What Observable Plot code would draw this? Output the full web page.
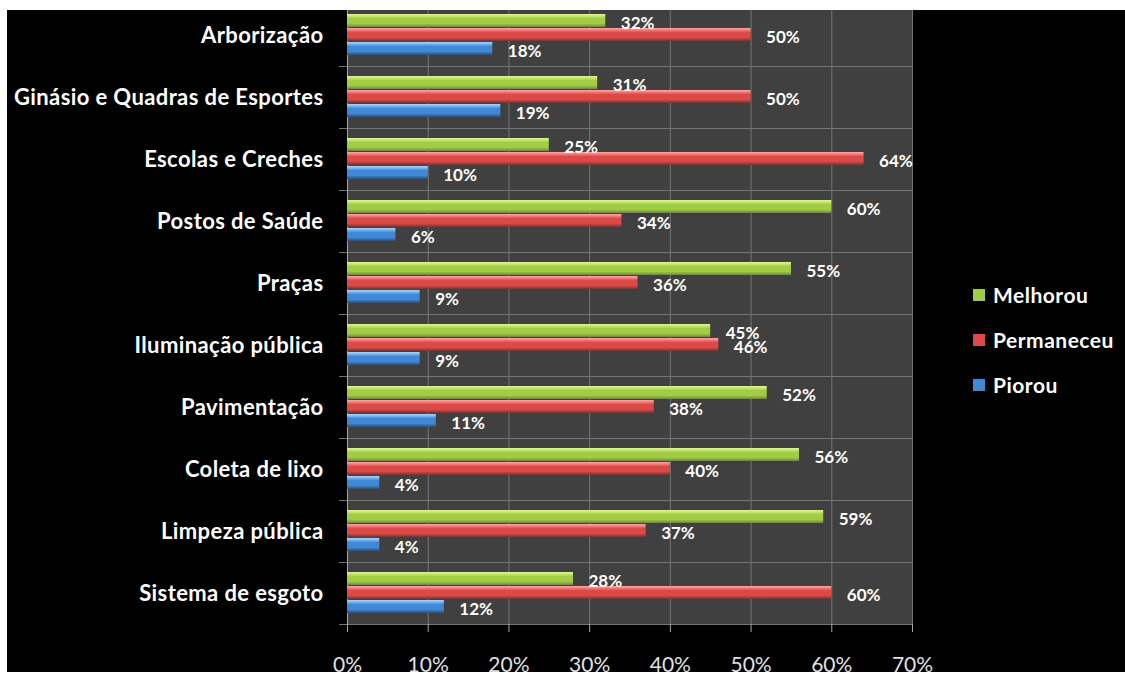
<!DOCTYPE html>
<html>
<head>
<meta charset="utf-8">
<script src="https://cdn.jsdelivr.net/npm/d3@7"></script>
<script src="https://cdn.jsdelivr.net/npm/@observablehq/plot@0.6"></script>
<style>
  html, body { margin: 0; padding: 0; background: #fff; }
  #frame { position: absolute; left: 7px; top: 10px; width: 1118px; height: 662px; background: #000; overflow: hidden; }
  #chart { position: absolute; left: -7px; top: -10px; }
  #legend { position: absolute; left: 973px; top: 272px; font-family: Lato, sans-serif; font-weight: bold; font-size: 21px; color: #fff; letter-spacing: 0.5px; }
  #legend .item { display: flex; align-items: center; height: 45px; }
  #legend .sw { width: 12px; height: 12px; margin-right: 8px; }
</style>
</head>
<body>
<div id="frame"><div id="chart"></div></div>
<div id="legend"></div>
<script>
const categories = [
  "Arborização",
  "Ginásio e Quadras de Esportes",
  "Escolas e Creches",
  "Postos de Saúde",
  "Praças",
  "Iluminação pública",
  "Pavimentação",
  "Coleta de lixo",
  "Limpeza pública",
  "Sistema de esgoto"
];
const series = ["Melhorou", "Permaneceu", "Piorou"];
const melhorou   = [32, 31, 25, 60, 55, 45, 52, 56, 59, 28];
const permaneceu = [50, 50, 64, 34, 36, 46, 38, 40, 37, 60];
const piorou     = [18, 19, 10,  6,  9,  9, 11,  4,  4, 12];
const xTicks = [0, 10, 20, 30, 40, 50, 60, 70];
const colors = ["#a3cc45", "#dc4a48", "#4089d6"];
const gradStops = [
  ["#e2f59c", "#a3cc45", "#6a9020"],
  ["#f8aca8", "#dc4a48", "#962624"],
  ["#b0d6f8", "#4089d6", "#1c5293"]
];

const valuesBySeries = [melhorou, permaneceu, piorou];
const data = categories.flatMap((c, i) =>
  series.map((s, j) => ({category: c, series: s, value: valuesBySeries[j][i]}))
);

const grid = "#747474";
const chart = Plot.plot({
  width: 1125,
  height: 673,
  marginLeft: 347,
  marginRight: 213,
  marginTop: 3,
  marginBottom: 48,
  style: {background: "transparent", color: "#fff", fontFamily: "Lato, sans-serif"},
  x: {domain: [0, 70]},
  y: {domain: series, paddingInner: 0.04, paddingOuter: 0.65, axis: null},
  fy: {domain: categories, padding: 0},
  color: {type: "ordinal", domain: series, range: series.map((s, i) => `url(#grad${i})`)},
  marks: [
    Plot.frame({fill: "#404040"}),
    Plot.gridX({ticks: xTicks, stroke: grid, strokeOpacity: 1}),
    Plot.frame({anchor: "top", stroke: grid, insetLeft: -8}),
    Plot.frame({anchor: "bottom", stroke: grid, insetLeft: -8}),
    Plot.frame({anchor: "left", stroke: "#a8a8a8"}),
    Plot.barX(data, {x: "value", y: "series", fy: "category", fill: "series"}),
    Plot.text(data, {
      x: "value", y: "series", fy: "category",
      text: d => d.value + "%",
      dx: 15, dy: 3, textAnchor: "start",
      fill: "#fff", fontWeight: "bold", fontSize: 17
    }),
    Plot.axisX({
      ticks: xTicks, tickFormat: d => d + "%", tickSize: 8, tickPadding: 25,
      fontSize: 21, stroke: "#a8a8a8", fill: "#e0e0e0", label: null
    }),
    Plot.axisFy({
      anchor: "left", tickSize: 0, tickPadding: 24,
      fontSize: 22, fontWeight: "bold", fill: "#fff", label: null
    })
  ]
});

const svg = d3.select(chart);
svg.selectAll("[aria-label='fy-axis tick label'] text").style("letter-spacing", "0.4px");
const defs = svg.insert("defs", ":first-child");
gradStops.forEach((st, i) => {
  const g = defs.append("linearGradient").attr("id", `grad${i}`)
    .attr("x1", 0).attr("y1", 0).attr("x2", 0).attr("y2", 1);
  g.append("stop").attr("offset", "0%").attr("stop-color", st[0]);
  g.append("stop").attr("offset", "35%").attr("stop-color", st[1]);
  g.append("stop").attr("offset", "72%").attr("stop-color", st[1]);
  g.append("stop").attr("offset", "100%").attr("stop-color", st[2]);
});
document.getElementById("chart").appendChild(chart);

const legend = document.getElementById("legend");
series.forEach((s, i) => {
  const item = document.createElement("div");
  item.className = "item";
  const sw = document.createElement("div");
  sw.className = "sw";
  sw.style.background = colors[i];
  const label = document.createElement("span");
  label.textContent = s;
  item.appendChild(sw);
  item.appendChild(label);
  legend.appendChild(item);
});
</script>
</body>
</html>
